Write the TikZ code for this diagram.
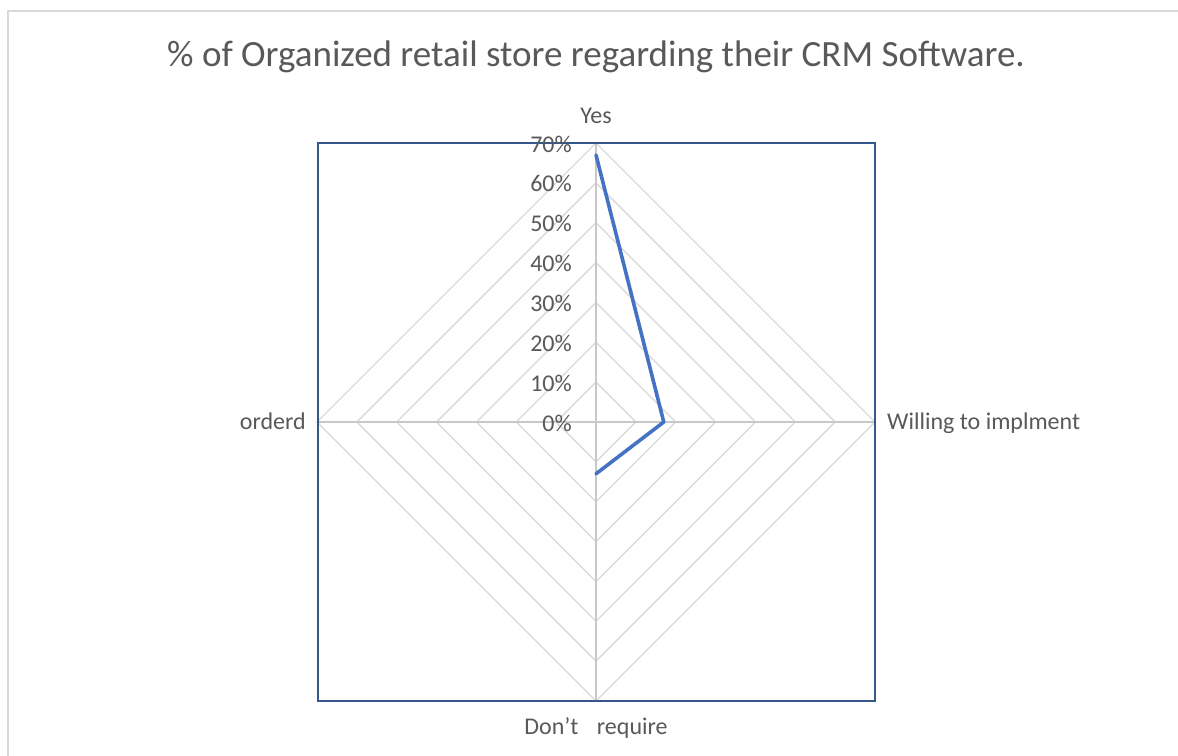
\documentclass[tikz,border=0pt]{standalone}
\usepackage{fontspec}
\setmainfont{Carlito}
\usetikzlibrary{calc}
\definecolor{txtgray}{HTML}{595959}
\definecolor{gridgray}{HTML}{D9D9D9}
\definecolor{spokegray}{HTML}{C8C8C8}
\definecolor{framblue}{RGB}{52,87,140}
\definecolor{serblue}{HTML}{4472C4}
\tikzset{
  outerborder/.style={draw=gridgray, line width=2pt},
  gridline/.style={draw=gridgray, line width=1.3pt},
  spoke/.style={draw=spokegray, line width=1.5pt},
  plotframe/.style={draw=framblue, line width=1.5pt},
  series/.style={draw=serblue, line width=3.6pt, line join=round, line cap=round},
  ticklbl/.style={text=txtgray, font=\fontsize{24}{28}\selectfont, anchor=base east, inner sep=0pt},
  catlbl/.style={text=txtgray, font=\fontsize{24}{28}\selectfont, inner sep=0pt},
  titlelbl/.style={text=txtgray, font=\fontsize{37}{44}\selectfont, inner sep=0pt, anchor=base}
}
\begin{document}
\begin{tikzpicture}[x=1pt,y=-1pt]
\useasboundingbox (0,0) rectangle (1178,755);
\fill[white] (0,0) rectangle (1178,755);
\draw[outerborder] (8,756) -- (8,11) -- (1179,11);
\node[titlelbl] (title) at (596,66) {\% of Organized retail store regarding their CRM Software.};
% grid
\foreach \i in {1,...,7}{
  \draw[gridline] (596,{422-39.857*\i}) -- ({596+39.857*\i},422) -- (596,{422+39.857*\i}) -- ({596-39.857*\i},422) -- cycle;
}
\coordinate (c) at (596,422);
\coordinate (vtop) at (596,143);
\coordinate (vright) at (875,422);
\coordinate (vbot) at (596,701);
\coordinate (vleft) at (317,422);
\draw[spoke] (c) -- (vtop);
\draw[spoke] (c) -- (vright);
\draw[spoke] (c) -- (vbot);
\draw[spoke] (c) -- (vleft);
\draw[plotframe] (318,143) rectangle (875,701);
% tick labels
\foreach \i in {0,...,7}{
  \node[ticklbl] (t\i) at (572,{431-39.857*\i}) {\number\numexpr\i*10\relax\%};
}
% category labels
\node[catlbl, anchor=base] (yes) at (596,123) {Yes};
\node[catlbl, anchor=base east] (ord) at (306,429) {orderd};
\node[catlbl, anchor=base west] (will) at (887,429) {Willing to implment};
\node[catlbl, anchor=base] (dont) at (596,734) {Don’t\hspace{13pt} require};
% series
\coordinate (p1) at (596,{422-0.67*398.57});
\coordinate (p2) at ({596+0.17*398.57},422);
\coordinate (p3) at (596,{422+0.13*398.57});
\draw[series] (p1) -- (p2) -- (p3);
\end{tikzpicture}
\end{document}
